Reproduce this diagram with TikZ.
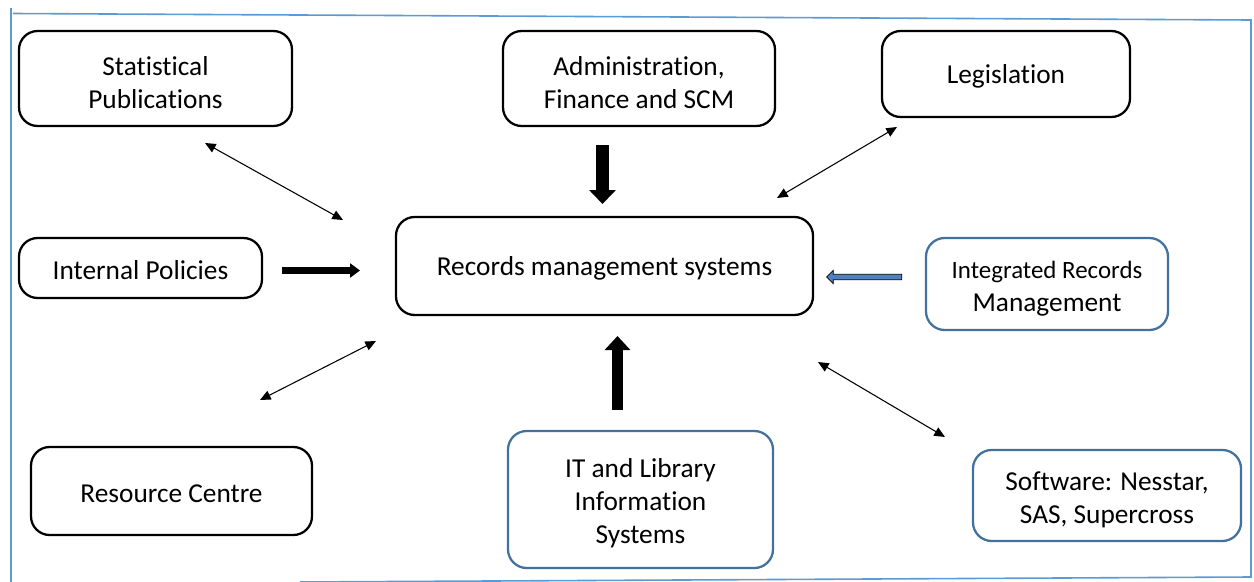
\documentclass[tikz,border=0pt]{standalone}
\usepackage{fontspec}
\setmainfont{Carlito}[Ligatures=NoCommon]
\usepackage{tikz}
\usetikzlibrary{shapes}
\usetikzlibrary{shapes.arrows}
\usetikzlibrary{arrows.meta}
\definecolor{frameblue}{HTML}{5B9BD5}
\definecolor{boxblue}{HTML}{41719C}
\definecolor{arrowblue}{HTML}{4F81BD}
\newcommand{\firstline}{\rule{0pt}{20pt}}
\tikzstyle{bx}=[rectangle,draw,line width=1.7pt,rounded corners=14pt,align=center,inner sep=0pt,
  font=\fontsize{20.5}{24.6}\selectfont]
\tikzstyle{bbx}=[bx,draw=boxblue]
\tikzstyle{twoway}=[line width=0.8pt,{Triangle[length=8pt,width=7pt]}-{Triangle[length=8pt,width=7pt]}]
\tikzstyle{fat}=[line width=9.5pt,-{Triangle[length=10.5pt,width=19.5pt]}]

\begin{document}
\begin{tikzpicture}[x=0.75pt,y=-0.75pt]
\useasboundingbox (0,0) rectangle (1254,582);

%frame
\draw[frameblue,line width=1.2pt] (11,8) -- (11,582);
\draw[frameblue,line width=1.2pt] (13,13.5) -- (1251,20) -- (1251,577) -- (300,582);

%boxes
\node[bx,minimum width=273*0.75pt,minimum height=95*0.75pt] (stat) at (155.5,78.5) {\firstline Statistical\\Publications};
\node[bx,minimum width=272*0.75pt,minimum height=95*0.75pt] (admin) at (639,78.5) {\firstline Administration,\\Finance and SCM};
\node[bx,minimum width=248*0.75pt,minimum height=86*0.75pt] (legis) at (1006,74) {\rule{0pt}{17.5pt}Legislation};
\node[bx,minimum width=243*0.75pt,minimum height=60*0.75pt] (policy) at (140.5,268) {\rule{0pt}{17.5pt}Internal Policies};
\node[bx,minimum width=417*0.75pt,minimum height=98*0.75pt] (rms) at (604.5,266) {\rule{0pt}{17.5pt}Records management systems};
\node[bbx,minimum width=242*0.75pt,minimum height=92*0.75pt] (irm) at (1047,284) {\firstline{\fontsize{18.7}{24.6}\selectfont Integrated Records}\\Management};
\node[bx,minimum width=281*0.75pt,minimum height=88*0.75pt] (resource) at (171.5,491) {\rule{0pt}{17.5pt}Resource Centre};
\node[bbx,minimum width=265*0.75pt,minimum height=137*0.75pt] (itlib) at (640.5,499.5) {\firstline IT and Library\\Information\\Systems};
\node[bbx,minimum width=268*0.75pt,minimum height=91*0.75pt] (soft) at (1107,495.5) {\firstline Software: Nesstar,\\SAS, Supercross};

%arrow ends
\coordinate (stat-a) at (205,143);
\coordinate (stat-b) at (343,220);
\coordinate (legis-a) at (777,198);
\coordinate (legis-b) at (897,127);
\coordinate (res-a) at (260,400);
\coordinate (res-b) at (376,341);
\coordinate (soft-a) at (818,362);
\coordinate (soft-b) at (945,437);
\coordinate (admin-a) at (602.5,145);
\coordinate (admin-b) at (602.5,204);
\coordinate (it-a) at (617.5,410);
\coordinate (it-b) at (617.5,336);
\coordinate (pol-a) at (282,270.5);
\coordinate (pol-b) at (360,270.5);

%two way arrows
\draw[twoway] (stat-a) -- (stat-b);
\draw[twoway] (legis-a) -- (legis-b);
\draw[twoway] (res-a) -- (res-b);
\draw[twoway] (soft-a) -- (soft-b);

%block arrows
\draw[fat] (admin-a) -- (admin-b);
\draw[fat,line width=8.3pt,-{Triangle[length=10.5pt,width=18.7pt]}] (it-a) -- (it-b);
\draw[line width=5.2pt,-{Triangle[length=7.5pt,width=10.5pt]}] (pol-a) -- (pol-b);

%hollow arrow
\node[single arrow,draw=black,fill=arrowblue,line width=0.6pt,inner sep=1.7pt,
  single arrow head extend=3pt,minimum height=75*0.75pt,shape border rotate=180] (irarrow) at (865.5,277) {};

\end{tikzpicture}
\end{document}
